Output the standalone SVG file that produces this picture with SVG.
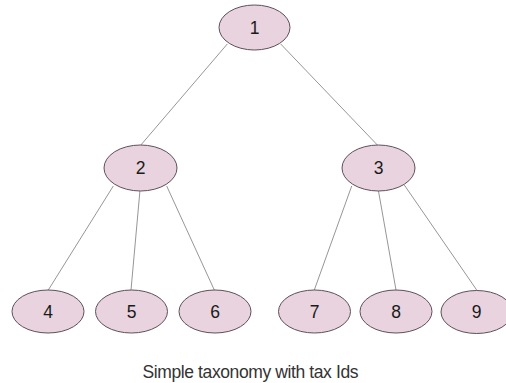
<svg xmlns="http://www.w3.org/2000/svg" width="506" height="383" viewBox="0 0 506 383">
  <style>
    .node ellipse { fill: #e8d3de; stroke: #5e4f58; stroke-width: 1; }
    .node text { font-family: "Liberation Sans", Arial, sans-serif; font-size: 17.5px; fill: #1a1a1a; text-anchor: middle; }
    #edges line { stroke: #8a8a8a; stroke-width: 0.9; }
    .caption { font-family: "Liberation Sans", Arial, sans-serif; font-size: 17.5px; fill: #333; }
  </style>
  <rect width="506" height="383" fill="#fff"/>

  <!-- parent-child links -->
  <g id="edges">
    <line x1="227.3" y1="44" x2="140" y2="146"/>
    <line x1="280.7" y1="44" x2="378.3" y2="146"/>
    <line x1="113.3" y1="186" x2="48.3" y2="290"/>
    <line x1="140" y1="190" x2="131" y2="290"/>
    <line x1="166.7" y1="186" x2="214.3" y2="290"/>
    <line x1="351.7" y1="186" x2="314.3" y2="290"/>
    <line x1="378.3" y1="190" x2="396" y2="290"/>
    <line x1="404.3" y1="185" x2="476.7" y2="290"/>
  </g>

  <!-- taxonomy nodes -->
  <g id="node-1" class="node">
    <ellipse cx="254.5" cy="27.5" rx="35.5" ry="22.5"/>
    <text x="254.5" y="33.7">1</text>
  </g>
  <g id="node-2" class="node">
    <ellipse cx="140.5" cy="168" rx="36.5" ry="23"/>
    <text x="140.5" y="174.2">2</text>
  </g>
  <g id="node-3" class="node">
    <ellipse cx="378.5" cy="168" rx="36.5" ry="23"/>
    <text x="378.5" y="174.2">3</text>
  </g>
  <g id="node-4" class="node">
    <ellipse cx="48" cy="311.5" rx="36" ry="21.5"/>
    <text x="48" y="317.7">4</text>
  </g>
  <g id="node-5" class="node">
    <ellipse cx="131.5" cy="311.5" rx="36" ry="21.5"/>
    <text x="131.5" y="317.7">5</text>
  </g>
  <g id="node-6" class="node">
    <ellipse cx="215" cy="311.5" rx="36" ry="21.5"/>
    <text x="215" y="317.7">6</text>
  </g>
  <g id="node-7" class="node">
    <ellipse cx="314.5" cy="311.5" rx="36" ry="21.5"/>
    <text x="314.5" y="317.7">7</text>
  </g>
  <g id="node-8" class="node">
    <ellipse cx="396" cy="311.5" rx="36" ry="21.5"/>
    <text x="396" y="317.7">8</text>
  </g>
  <g id="node-9" class="node">
    <ellipse cx="476.7" cy="312" rx="35.7" ry="21.5"/>
    <text x="476.7" y="318.2">9</text>
  </g>

  <text class="caption" x="142.5" y="377.5" textLength="216" lengthAdjust="spacing">Simple taxonomy with tax Ids</text>
</svg>
